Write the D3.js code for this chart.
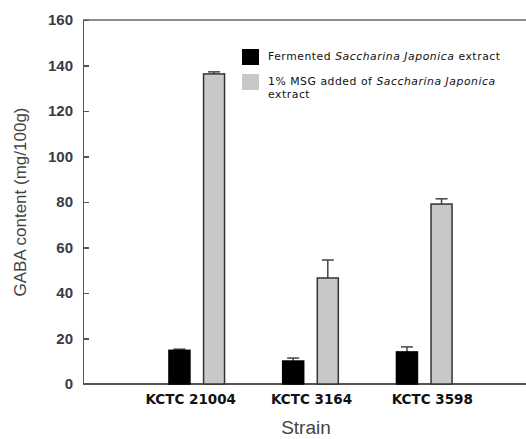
<!DOCTYPE html>
<meta charset="utf-8">
<style>
body { margin: 0; background: #fff; }
.axis path, .axis line { stroke: #555; stroke-width: 1.5; shape-rendering: crispEdges; }
.axis text { font: bold 15px "Liberation Sans", Arial, sans-serif; fill: #3a3a48; }
</style>
<body>
<script src="https://d3js.org/d3.v7.min.js"></script>
<script>

// data
var strains = ["KCTC 21004", "KCTC 3164", "KCTC 3598"];
var fermented = [14.8, 10.1, 14.1];
var fermentedErr = [0.5, 1.3, 2.2];
var msg = [136.3, 46.6, 79.1];
var msgErr = [0.9, 7.9, 2.3];
var yTicks = [0, 20, 40, 60, 80, 100, 120, 140, 160];

var width = 526, height = 439;
var plotLeft = 83, plotTop = 20, plotBottom = 384;

var svg = d3.select("body").append("svg")
    .attr("width", width)
    .attr("height", height);

var x = d3.scaleLinear().domain([0, 4]).range([plotLeft, 538]);
var y = d3.scaleLinear().domain([0, 160]).range([plotBottom, plotTop]);

var barW = 21, off = 17.3;

// top frame line
svg.append("line")
    .attr("x1", plotLeft).attr("x2", width)
    .attr("y1", y(160)).attr("y2", y(160))
    .style("stroke", "#666").style("stroke-width", 1.5);

// y axis (ticks point inward)
svg.append("g")
    .attr("class", "axis")
    .attr("transform", "translate(" + plotLeft + ",0)")
    .call(d3.axisRight(y).tickValues(yTicks).tickSize(6).tickSizeOuter(0))
    .call(function(g) {
        g.selectAll("text").attr("x", -10).style("text-anchor", "end");
    });

// x axis line
svg.append("line")
    .attr("x1", plotLeft).attr("x2", width)
    .attr("y1", y(0)).attr("y2", y(0))
    .style("stroke", "#555").style("stroke-width", 1.8);

// bars
var series = [
    {vals: fermented, err: fermentedErr, dx: -off, fill: "#000", stroke: "#000"},
    {vals: msg, err: msgErr, dx: off, fill: "#c8c8c8", stroke: "#333"}
];

series.forEach(function(s) {
    var g = svg.append("g");
    s.vals.forEach(function(v, i) {
        var cx = x(i + 1) + s.dx;
        // error bar (upper only)
        g.append("line")
            .attr("x1", cx).attr("x2", cx)
            .attr("y1", y(v)).attr("y2", y(v + s.err[i]))
            .style("stroke", "#444").style("stroke-width", 1.5);
        g.append("line")
            .attr("x1", cx - 6).attr("x2", cx + 6)
            .attr("y1", y(v + s.err[i])).attr("y2", y(v + s.err[i]))
            .style("stroke", "#444").style("stroke-width", 1.5);
        g.append("rect")
            .attr("x", cx - barW / 2)
            .attr("y", y(v))
            .attr("width", barW)
            .attr("height", y(0) - y(v))
            .style("fill", s.fill)
            .style("stroke", s.stroke)
            .style("stroke-width", 1.5);
    });
});

// strain labels
var lx = d3.scaleLinear().domain([1, 3]).range([x(1) - 6, x(3) + 8]);
svg.selectAll(".strain")
    .data(strains)
    .enter().append("text")
    .attr("x", function(d, i) { return lx(i + 1); })
    .attr("y", 404)
    .style("text-anchor", "middle")
    .style("font", "bold 13.5px 'DejaVu Sans', sans-serif")
    .style("fill", "#111")
    .text(function(d) { return d; });

// axis titles
svg.append("text")
    .attr("transform", "translate(26,202) rotate(-90)")
    .style("text-anchor", "middle")
    .style("font", "17px 'Liberation Sans', Arial, sans-serif")
    .style("fill", "#444")
    .text("GABA content (mg/100g)");

svg.append("text")
    .attr("x", 306).attr("y", 434)
    .style("text-anchor", "middle")
    .style("font", "19px 'Liberation Sans', Arial, sans-serif")
    .style("fill", "#444")
    .text("Strain");

// legend
var lg = svg.append("g")
    .style("font", "10.8px 'DejaVu Sans', sans-serif")
    .style("letter-spacing", "0.55px")
    .style("fill", "#111");
lg.append("rect").attr("x", 242).attr("y", 49).attr("width", 17).attr("height", 16).style("fill", "#000");
lg.append("rect").attr("x", 242).attr("y", 74).attr("width", 17).attr("height", 16).style("fill", "#c8c8c8");

var t1 = lg.append("text").attr("x", 268).attr("y", 60);
t1.append("tspan").text("Fermented ");
t1.append("tspan").style("font-style", "italic").text("Saccharina Japonica");
t1.append("tspan").text(" extract");

var t2 = lg.append("text").attr("x", 268).attr("y", 85);
t2.append("tspan").text("1% MSG added of ");
t2.append("tspan").style("font-style", "italic").text("Saccharina Japonica");
lg.append("text").attr("x", 268).attr("y", 97.5).text("extract");

</script>
</body>
